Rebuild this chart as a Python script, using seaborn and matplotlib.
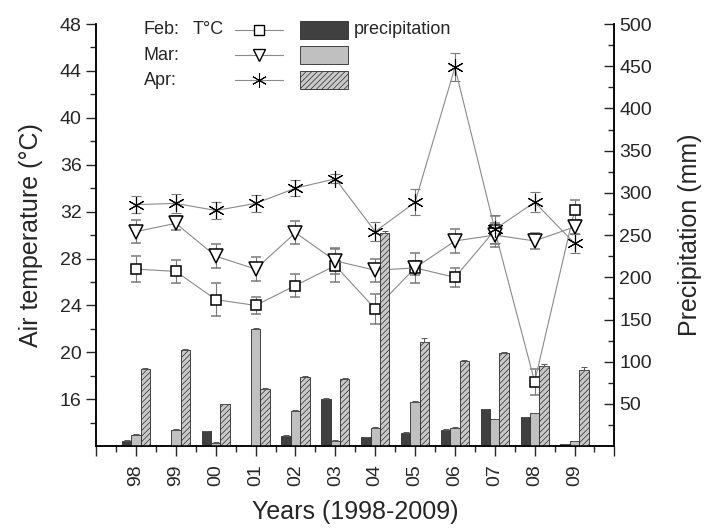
import numpy as np
import pandas as pd
import seaborn as sns
import matplotlib.pyplot as plt
from matplotlib.lines import Line2D
from matplotlib.patches import Rectangle

# data
years = ['98', '99', '00', '01', '02', '03', '04', '05', '06', '07', '08', '09']
months = ['Feb', 'Mar', 'Apr']

# air temperature (°C), mean and error
temp_feb = [27.1, 26.9, 24.5, 24.0, 25.7, 27.4, 23.7, 27.2, 26.4, 30.4, 17.5, 32.1]
temp_feb_err = [1.1, 1.0, 1.4, 0.7, 1.0, 1.4, 1.3, 1.3, 0.8, 1.2, 1.1, 0.9]
temp_mar = [30.3, 31.0, 28.2, 27.1, 30.2, 27.8, 27.0, 27.2, 29.5, 30.0, 29.5, 30.7]
temp_mar_err = [1.0, 0.6, 1.0, 1.0, 1.0, 1.1, 1.0, 0.6, 1.0, 1.0, 0.7, 0.6]
temp_apr = [32.6, 32.7, 32.1, 32.7, 34.0, 34.8, 30.3, 32.8, 44.3, 30.5, 32.8, 29.3]
temp_apr_err = [0.7, 0.8, 0.75, 0.7, 0.7, 0.4, 0.8, 1.1, 1.2, 1.2, 0.85, 0.8]

# precipitation (mm)
prec_feb = [6.3, 0, 17.4, 0, 12.6, 55.7, 10.3, 15.8, 19.7, 43.8, 34.0, 2.0]
prec_mar = [13.8, 19.7, 4.3, 138.6, 41.8, 6.7, 22.1, 52.5, 22.1, 31.6, 38.7, 5.9]
prec_apr = [91.2, 113.7, 49.4, 67.9, 81.8, 79.8, 252.7, 123.6, 100.7, 110.6, 94.8, 90.0]
prec_feb_err = [0.5, 0, 0.5, 0, 0.5, 0.8, 0.5, 0.5, 0.5, 0.8, 0.5, 0.3]
prec_mar_err = [0.5, 0.5, 0.5, 0.8, 0.8, 0.5, 0.5, 0.8, 0.5, 0.5, 0.8, 0.3]
prec_apr_err = [1.0, 1.0, 1.0, 1.0, 1.0, 1.0, 2.0, 4.0, 1.0, 1.0, 2.0, 4.0]

bar_colors = {'Feb': '#404040', 'Mar': '#c0c0c0', 'Apr': '#c9c9c9'}

sns.set_style('ticks')
plt.rcParams['font.family'] = ['Liberation Sans', 'DejaVu Sans']
plt.rcParams['hatch.color'] = '#555555'
plt.rcParams['hatch.linewidth'] = 0.5

fig = plt.figure(figsize=(7.07, 5.28), dpi=100)
ax = fig.add_axes([0.136, 0.155, 0.733, 0.7995])
ax2 = ax.twinx()

# ---- precipitation bars (right axis, drawn on top)
df_prec = pd.DataFrame({
    'year': years * 3,
    'month': np.repeat(months, len(years)),
    'prec': prec_feb + prec_mar + prec_apr,
})
sns.barplot(data=df_prec, x='year', y='prec', hue='month', hue_order=months,
            palette=bar_colors, saturation=1, width=0.705, errorbar=None,
            edgecolor='#2a2a2a', linewidth=0.6, legend=False, ax=ax2)
for bar in ax2.containers[2]:
    bar.set_hatch('//////')

for cont, errs in zip(ax2.containers, [prec_feb_err, prec_mar_err, prec_apr_err]):
    xs = [p.get_x() + p.get_width() / 2 for p in cont]
    hs = [p.get_height() for p in cont]
    ax2.errorbar(xs, hs, yerr=[np.zeros(len(errs)), errs], fmt='none',
                 ecolor='#555555', elinewidth=0.7, capsize=2.5, capthick=0.7)

# ---- temperature lines (left axis)
x = np.arange(len(years))
series = [(temp_feb, temp_feb_err, 's', 7.5, 1.1),
          (temp_mar, temp_mar_err, 'v', 10, 1.1),
          (temp_apr, temp_apr_err, (6, 2, 0), 12, 0.8)]
for vals, errs, mk, ms, mw in series:
    ax.errorbar(x, vals, yerr=errs, fmt='-', color='#8a8a8a', lw=0.8,
                marker=mk, ms=ms, mfc='white', mec='black', mew=mw,
                ecolor='#7a7a7a', elinewidth=0.8, capsize=3.5, capthick=0.8)

# ---- axes
ax.set_ylim(12, 48)
ax.set_yticks(range(16, 49, 4))
ax.set_yticks(range(14, 49, 2), minor=True)
ax2.set_ylim(0, 500)
ax2.set_yticks(range(50, 501, 50))
ax2.set_yticks(range(25, 501, 25), minor=True)

ax.set_xlim(-1, 12)
ax.set_xticks(range(-1, 13), [''] + years + [''])
ax.set_xticks(np.arange(-0.5, 12, 1), minor=True)
ax.tick_params(axis='x', which='both', direction='out', rotation=90, labelsize=14, pad=6)
ax.tick_params(axis='x', which='major', length=7, width=1)
ax.tick_params(axis='x', which='minor', length=4, width=1)
ax.tick_params(axis='y', which='major', direction='out', length=7, width=1, labelsize=14)
ax.tick_params(axis='y', which='minor', direction='out', length=4, width=1)
ax2.tick_params(axis='y', which='major', direction='in', length=7, width=1, labelsize=14)
ax2.tick_params(axis='y', which='minor', direction='in', length=4, width=1)

for a in (ax, ax2):
    a.spines['top'].set_visible(False)
    for s in ('left', 'right', 'bottom'):
        a.spines[s].set_linewidth(1.1)
        a.spines[s].set_color('black')

ax.set_xlabel('Years (1998-2009)', fontsize=18, labelpad=10)
ax.set_ylabel('Air temperature (°C)', fontsize=18, labelpad=12)
ax2.set_ylabel('Precipitation (mm)', fontsize=18, labelpad=19)

# ---- legend drawn by hand
row_y = [0.986, 0.9265, 0.867]
tr = ax2.transAxes
for i, (m, (vals, errs, mk, ms, mw)) in enumerate(zip(months, series)):
    ax2.text(0.092, row_y[i], m + ':', transform=tr, fontsize=13, va='center', ha='left')
    ax2.add_line(Line2D([0.268, 0.361], [row_y[i]] * 2, transform=tr, color='#8a8a8a',
                        lw=0.8, clip_on=False))
    ax2.add_line(Line2D([0.3145], [row_y[i]], transform=tr, marker=mk, ms=ms * 0.9,
                        mfc='white', mec='black', mew=mw * 0.9, ls='none', clip_on=False))
    ax2.add_patch(Rectangle((0.394, row_y[i] - 0.021), 0.092, 0.042, transform=tr,
                            facecolor=bar_colors[m], edgecolor='#2a2a2a', lw=0.6,
                            hatch='//////' if m == 'Apr' else None, clip_on=False))
ax2.text(0.187, row_y[0], 'T°C', transform=tr, fontsize=13, va='center', ha='left')
ax2.text(0.498, row_y[0], 'precipitation', transform=tr, fontsize=13, va='center', ha='left')

fig.savefig('out.png', dpi=100)
